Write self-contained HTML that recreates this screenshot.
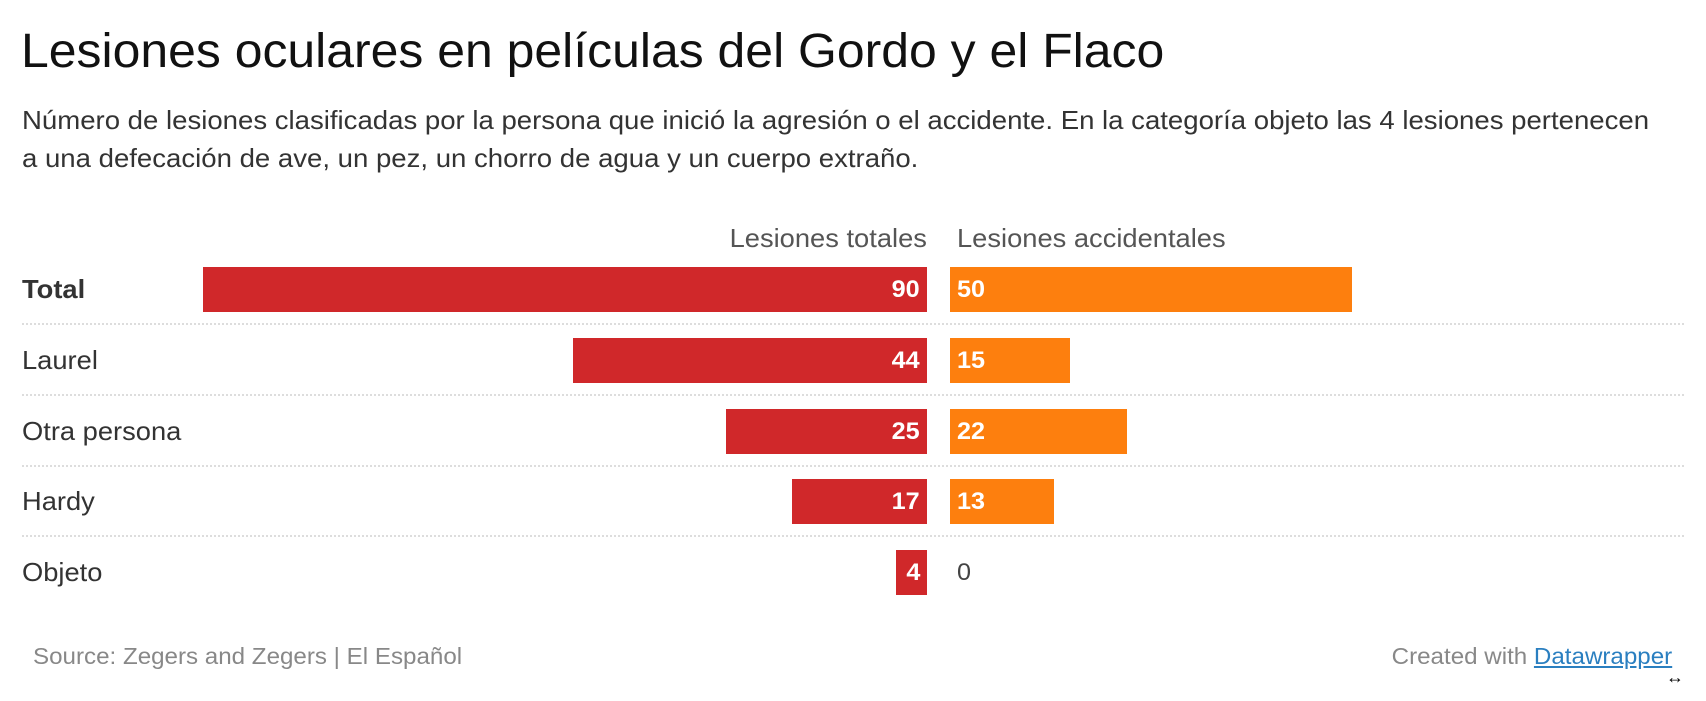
<!DOCTYPE html>
<html><head><meta charset="utf-8"><style>
body{margin:0;width:1706px;height:701px;background:#fff;font-family:"Liberation Sans",sans-serif;position:relative;overflow:hidden;color:#222}
.a{position:absolute;white-space:nowrap}
.L{transform:scaleX(1.05);transform-origin:0 50%}
.R{transform:scaleX(1.05);transform-origin:100% 50%}
.bar{position:absolute;height:45px}
.r{background:#d0282a}.o{background:#fd7f0e}
.v{position:absolute;color:#fff;font-weight:bold;font-size:24px;line-height:45px;white-space:nowrap}
.lab{position:absolute;left:22px;font-size:26px;line-height:45px;color:#333;white-space:nowrap}
.dot{position:absolute;left:22px;width:1662px;border-top:2px dotted #ddd}
</style></head><body>
<div class="a L" style="left:21px;top:24px;font-size:48px;line-height:55px;color:#111;transform:scaleX(1.04)">Lesiones oculares en películas del Gordo y el Flaco</div>
<div class="a L" style="left:22px;top:101px;font-size:26px;line-height:38px;color:#333;transform:scaleX(1.06)">Número de lesiones clasificadas por la persona que inició la agresión o el accidente. En la categoría objeto las 4 lesiones pertenecen<br>a una defecación de ave, un pez, un chorro de agua y un cuerpo extraño.</div>
<div class="a R" style="right:779px;top:223px;font-size:26px;line-height:30px;color:#555">Lesiones totales</div>
<div class="a L" style="left:957px;top:223px;font-size:26px;line-height:30px;color:#555">Lesiones accidentales</div>

<div class="lab L" style="top:267px;font-weight:bold">Total</div>
<div class="bar r" style="top:267px;left:203px;width:724px"></div><div class="v R" style="top:267px;right:786px">90</div>
<div class="bar o" style="top:267px;left:950px;width:402px"></div><div class="v L" style="top:267px;left:957px">50</div>
<div class="dot" style="top:323px"></div>

<div class="lab L" style="top:338px">Laurel</div>
<div class="bar r" style="top:338px;left:573px;width:354px"></div><div class="v R" style="top:338px;right:786px">44</div>
<div class="bar o" style="top:338px;left:950px;width:120px"></div><div class="v L" style="top:338px;left:957px">15</div>
<div class="dot" style="top:394px"></div>

<div class="lab L" style="top:409px">Otra persona</div>
<div class="bar r" style="top:409px;left:726px;width:201px"></div><div class="v R" style="top:409px;right:786px">25</div>
<div class="bar o" style="top:409px;left:950px;width:177px"></div><div class="v L" style="top:409px;left:957px">22</div>
<div class="dot" style="top:465px"></div>

<div class="lab L" style="top:479px">Hardy</div>
<div class="bar r" style="top:479px;left:792px;width:135px"></div><div class="v R" style="top:479px;right:786px">17</div>
<div class="bar o" style="top:479px;left:950px;width:104px"></div><div class="v L" style="top:479px;left:957px">13</div>
<div class="dot" style="top:535px"></div>

<div class="lab L" style="top:550px">Objeto</div>
<div class="bar r" style="top:550px;left:896px;width:31px"></div><div class="v R" style="top:550px;right:786px">4</div>
<div class="v L" style="top:550px;left:957px;color:#444;font-weight:normal">0</div>

<div class="a L" style="left:33px;top:643px;font-size:23px;line-height:27px;color:#888">Source: Zegers and Zegers | El Español</div>
<div class="a R" style="right:34px;top:643px;font-size:23px;line-height:27px;color:#888">Created with <span style="color:#2a7fc0;text-decoration:underline">Datawrapper</span></div>
<div class="a" style="left:1666px;top:667px;font-size:18px;color:#000">↔</div>
</body></html>
